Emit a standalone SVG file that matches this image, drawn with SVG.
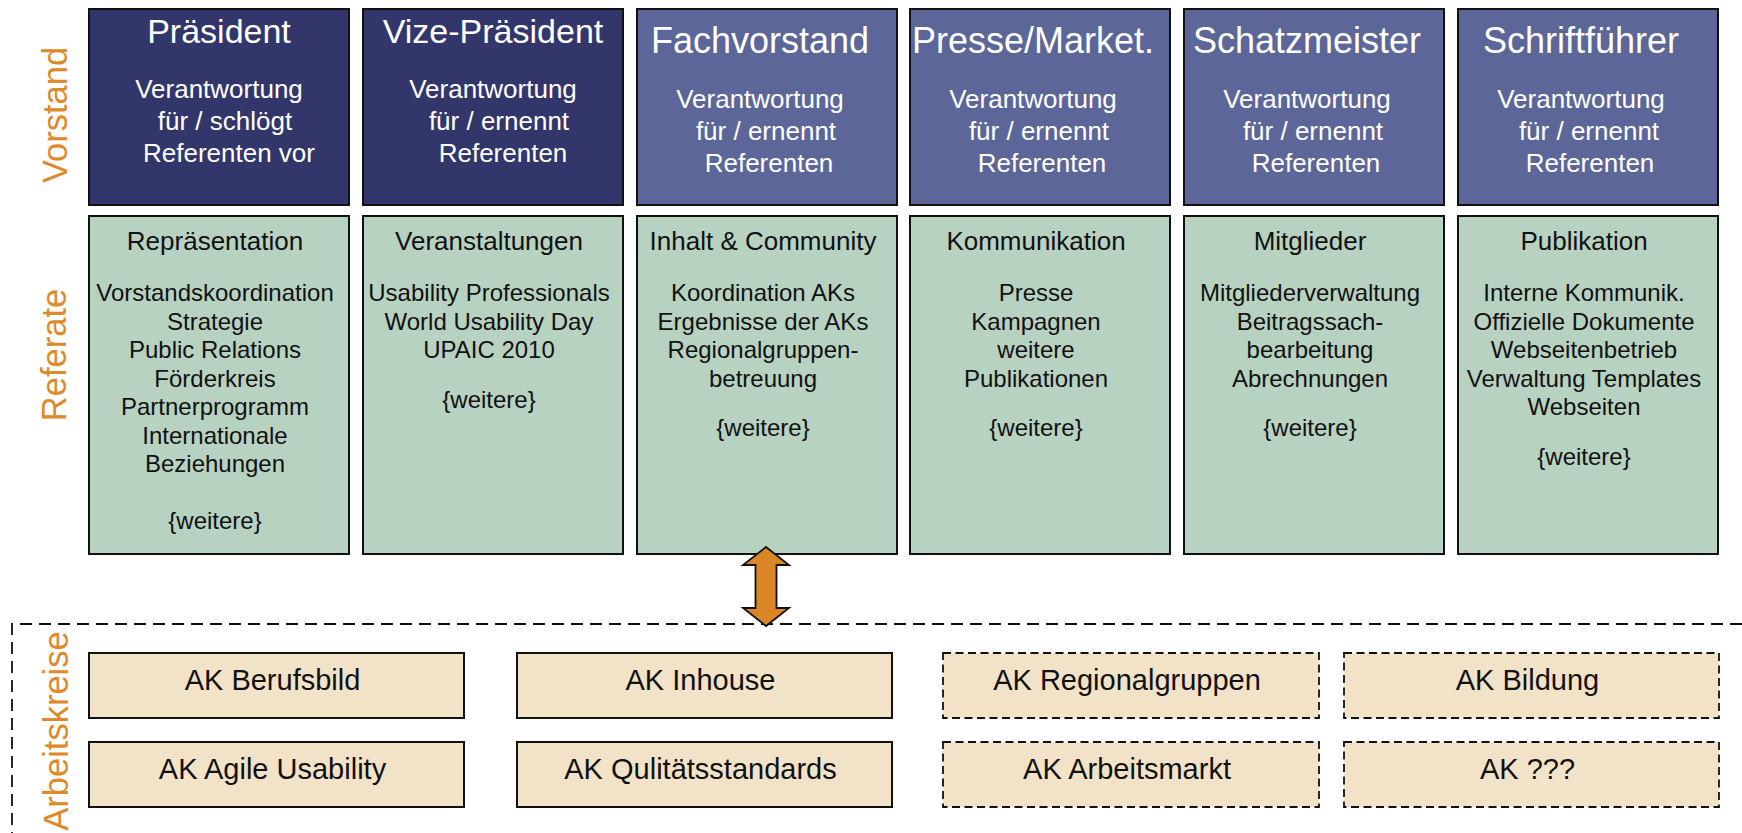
<svg xmlns="http://www.w3.org/2000/svg" width="1742" height="833" viewBox="0 0 1742 833">
<defs>
<style>
text{font-family:"Liberation Sans",Arial,sans-serif;text-anchor:middle}
.vd{fill:#32366A;stroke:#111;stroke-width:2}
.vm{fill:#5C6698;stroke:#111;stroke-width:2}
.rf{fill:#B8D2C1;stroke:#111;stroke-width:2}
.ak{fill:#F2E3C8;stroke:#111;stroke-width:2}
.akd{fill:#F2E3C8;stroke:#111;stroke-width:1.8;stroke-dasharray:8 4.5}
.t1{fill:#fff;font-size:34px}
.t2{fill:#fff;font-size:36px}
.tb{fill:#fff;font-size:26px}
.rt{fill:#111;font-size:26px}
.rb{fill:#111;font-size:24px}
.at{fill:#111;font-size:29px}
.lbl{fill:#E0892A;font-size:34.5px}
</style>
</defs>
<rect width="1742" height="833" fill="#fff"/>

<g id="labels">
<text class="lbl" transform="translate(67,115) rotate(-90)">Vorstand</text>
<text class="lbl" transform="translate(66,355) rotate(-90)">Referate</text>
<text class="lbl" transform="translate(68,731) rotate(-90)">Arbeitskreise</text>
</g>

<g id="vorstand-praesident">
<rect class="vd" x="89" y="9" width="260" height="196"/>
<text class="t1" x="219" y="43">Präsident</text>
<text class="tb" x="219" y="98">Verantwortung</text>
<text class="tb" x="225" y="130">für / schlögt</text>
<text class="tb" x="229" y="162">Referenten vor</text>
</g>
<g id="vorstand-vize">
<rect class="vd" x="363" y="9" width="260" height="196"/>
<text class="t1" x="493" y="43">Vize-Präsident</text>
<text class="tb" x="493" y="98">Verantwortung</text>
<text class="tb" x="499" y="130">für / ernennt</text>
<text class="tb" x="503" y="162">Referenten</text>
</g>
<g id="vorstand-fach">
<rect class="vm" x="637" y="9" width="260" height="196"/>
<text class="t2" x="760" y="53">Fachvorstand</text>
<text class="tb" x="760" y="108">Verantwortung</text>
<text class="tb" x="766" y="140">für / ernennt</text>
<text class="tb" x="769" y="172">Referenten</text>
</g>
<g id="vorstand-presse">
<rect class="vm" x="910" y="9" width="260" height="196"/>
<text class="t2" x="1033" y="53">Presse/Market.</text>
<text class="tb" x="1033" y="108">Verantwortung</text>
<text class="tb" x="1039" y="140">für / ernennt</text>
<text class="tb" x="1042" y="172">Referenten</text>
</g>
<g id="vorstand-schatz">
<rect class="vm" x="1184" y="9" width="260" height="196"/>
<text class="t2" x="1307" y="53">Schatzmeister</text>
<text class="tb" x="1307" y="108">Verantwortung</text>
<text class="tb" x="1313" y="140">für / ernennt</text>
<text class="tb" x="1316" y="172">Referenten</text>
</g>
<g id="vorstand-schrift">
<rect class="vm" x="1458" y="9" width="260" height="196"/>
<text class="t2" x="1581" y="53">Schriftführer</text>
<text class="tb" x="1581" y="108">Verantwortung</text>
<text class="tb" x="1589" y="140">für / ernennt</text>
<text class="tb" x="1590" y="172">Referenten</text>
</g>

<g id="referat-repraesentation">
<rect class="rf" x="89" y="216" width="260" height="338"/>
<text class="rt" x="215" y="250">Repräsentation</text>
<text class="rb" x="215" y="301">Vorstandskoordination</text>
<text class="rb" x="215" y="329.5">Strategie</text>
<text class="rb" x="215" y="358">Public Relations</text>
<text class="rb" x="215" y="386.5">Förderkreis</text>
<text class="rb" x="215" y="415">Partnerprogramm</text>
<text class="rb" x="215" y="443.5">Internationale</text>
<text class="rb" x="215" y="472">Beziehungen</text>
<text class="rb" x="215" y="529">{weitere}</text>
</g>
<g id="referat-veranstaltungen">
<rect class="rf" x="363" y="216" width="260" height="338"/>
<text class="rt" x="489" y="250">Veranstaltungen</text>
<text class="rb" x="489" y="301">Usability Professionals</text>
<text class="rb" x="489" y="329.5">World Usability Day</text>
<text class="rb" x="489" y="358">UPAIC 2010</text>
<text class="rb" x="489" y="408">{weitere}</text>
</g>
<g id="referat-inhalt">
<rect class="rf" x="637" y="216" width="260" height="338"/>
<text class="rt" x="763" y="250">Inhalt &amp; Community</text>
<text class="rb" x="763" y="301">Koordination AKs</text>
<text class="rb" x="763" y="329.5">Ergebnisse der AKs</text>
<text class="rb" x="763" y="358">Regionalgruppen-</text>
<text class="rb" x="763" y="386.5">betreuung</text>
<text class="rb" x="763" y="436">{weitere}</text>
</g>
<g id="referat-kommunikation">
<rect class="rf" x="910" y="216" width="260" height="338"/>
<text class="rt" x="1036" y="250">Kommunikation</text>
<text class="rb" x="1036" y="301">Presse</text>
<text class="rb" x="1036" y="329.5">Kampagnen</text>
<text class="rb" x="1036" y="358">weitere</text>
<text class="rb" x="1036" y="386.5">Publikationen</text>
<text class="rb" x="1036" y="436">{weitere}</text>
</g>
<g id="referat-mitglieder">
<rect class="rf" x="1184" y="216" width="260" height="338"/>
<text class="rt" x="1310" y="250">Mitglieder</text>
<text class="rb" x="1310" y="301">Mitgliederverwaltung</text>
<text class="rb" x="1310" y="329.5">Beitragssach-</text>
<text class="rb" x="1310" y="358">bearbeitung</text>
<text class="rb" x="1310" y="386.5">Abrechnungen</text>
<text class="rb" x="1310" y="436">{weitere}</text>
</g>
<g id="referat-publikation">
<rect class="rf" x="1458" y="216" width="260" height="338"/>
<text class="rt" x="1584" y="250">Publikation</text>
<text class="rb" x="1584" y="301">Interne Kommunik.</text>
<text class="rb" x="1584" y="329.5">Offizielle Dokumente</text>
<text class="rb" x="1584" y="358">Webseitenbetrieb</text>
<text class="rb" x="1584" y="386.5">Verwaltung Templates</text>
<text class="rb" x="1584" y="415">Webseiten</text>
<text class="rb" x="1584" y="465">{weitere}</text>
</g>

<g id="arbeitskreise-frame">
<path d="M1742,624 H12 V833" fill="none" stroke="#111" stroke-width="1.8" stroke-dasharray="12 7"/>
</g>

<g id="connectors">
<polygon points="766,547 789,565 776.5,565 776.5,608 789,608 766,626 743,608 755.5,608 755.5,565 743,565" fill="#DB8626" stroke="#111" stroke-width="1.8" stroke-linejoin="miter"/>
</g>

<g id="ak-berufsbild">
<rect class="ak" x="89" y="653" width="375" height="65"/>
<text class="at" x="272.5" y="690">AK Berufsbild</text>
</g>
<g id="ak-inhouse">
<rect class="ak" x="517" y="653" width="375" height="65"/>
<text class="at" x="700.5" y="690">AK Inhouse</text>
</g>
<g id="ak-regionalgruppen">
<rect class="akd" x="943" y="653" width="376" height="65"/>
<text class="at" x="1127" y="690">AK Regionalgruppen</text>
</g>
<g id="ak-bildung">
<rect class="akd" x="1344" y="653" width="375" height="65"/>
<text class="at" x="1527.5" y="690">AK Bildung</text>
</g>
<g id="ak-agile">
<rect class="ak" x="89" y="742" width="375" height="65"/>
<text class="at" x="272.5" y="779">AK Agile Usability</text>
</g>
<g id="ak-qualitaet">
<rect class="ak" x="517" y="742" width="375" height="65"/>
<text class="at" x="700.5" y="779">AK Qulitätsstandards</text>
</g>
<g id="ak-arbeitsmarkt">
<rect class="akd" x="943" y="742" width="376" height="65"/>
<text class="at" x="1127" y="779">AK Arbeitsmarkt</text>
</g>
<g id="ak-unknown">
<rect class="akd" x="1344" y="742" width="375" height="65"/>
<text class="at" x="1527.5" y="779">AK ???</text>
</g>
</svg>
